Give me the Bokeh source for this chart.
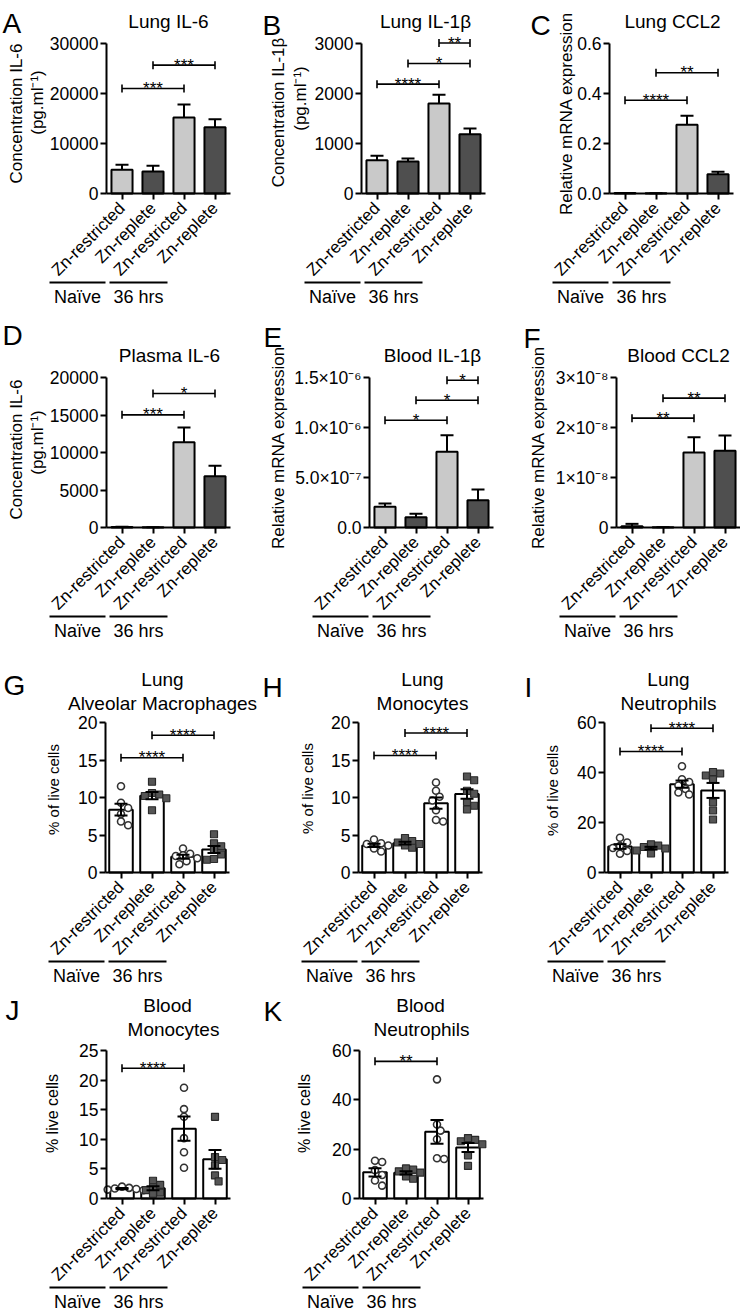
import numpy as np
from math import pi
from bokeh.plotting import figure
from bokeh.models import Range1d, FixedTicker, Label, Whisker, TeeHead, ColumnDataSource, Arrow
from bokeh.layouts import column, row
from bokeh.embed import file_html
from bokeh.resources import INLINE

# ---------------- data ----------------
categories = ["Zn-restricted", "Zn-replete", "Zn-restricted", "Zn-replete"]
groups = ["Naïve", "36 hrs"]

# A  Lung IL-6
lung_il6_mean = [4730, 4400, 15200, 13270]
lung_il6_sem = [1000, 1130, 2600, 1600]
lung_il6_yticks = [0, 10000, 20000, 30000]
lung_il6_yticklabels = ["0", "10000", "20000", "30000"]
lung_il6_sig_from = [0, 1]
lung_il6_sig_to = [2, 3]
lung_il6_sig_y = [21000, 25670]
lung_il6_sig_text = ["***", "***"]

# B  Lung IL-1beta
lung_il1b_mean = [667, 640, 1800, 1187]
lung_il1b_sem = [86, 60, 173, 113]
lung_il1b_yticks = [0, 1000, 2000, 3000]
lung_il1b_yticklabels = ["0", "1000", "2000", "3000"]
lung_il1b_sig_from = [0, 1, 2]
lung_il1b_sig_to = [2, 3, 3]
lung_il1b_sig_y = [2187, 2600, 3010]
lung_il1b_sig_text = ["****", "*", "**"]

# C  Lung CCL2
lung_ccl2_mean = [0.002, 0.001, 0.275, 0.077]
lung_ccl2_sem = [0.0005, 0.0003, 0.036, 0.010]
lung_ccl2_yticks = [0, 0.2, 0.4, 0.6]
lung_ccl2_yticklabels = ["0.0", "0.2", "0.4", "0.6"]
lung_ccl2_sig_from = [0, 1]
lung_ccl2_sig_to = [2, 3]
lung_ccl2_sig_y = [0.373, 0.483]
lung_ccl2_sig_text = ["****", "**"]

# D  Plasma IL-6
plasma_il6_mean = [60, 20, 11380, 6840]
plasma_il6_sem = [30, 10, 1950, 1380]
plasma_il6_yticks = [0, 5000, 10000, 15000, 20000]
plasma_il6_yticklabels = ["0", "5000", "10000", "15000", "20000"]
plasma_il6_sig_from = [0, 1]
plasma_il6_sig_to = [2, 3]
plasma_il6_sig_y = [15020, 17870]
plasma_il6_sig_text = ["***", "*"]

# E  Blood IL-1beta
blood_il1b_mean = [2.07e-7, 1.03e-7, 7.57e-7, 2.73e-7]
blood_il1b_sem = [0.33e-7, 0.34e-7, 1.66e-7, 1.07e-7]
blood_il1b_yticks = [0, 5e-7, 1e-6, 1.5e-6]
blood_il1b_yticklabels = ["0.0", "5.0×10⁻⁷", "1.0×10⁻⁶", "1.5×10⁻⁶"]
blood_il1b_sig_from = [0, 1, 2]
blood_il1b_sig_to = [2, 3, 3]
blood_il1b_sig_y = [1.073e-6, 1.273e-6, 1.473e-6]
blood_il1b_sig_text = ["*", "*", "*"]

# F  Blood CCL2
blood_ccl2_mean = [2.7e-10, 5e-11, 1.50e-8, 1.533e-8]
blood_ccl2_sem = [4.6e-10, 2e-11, 3.07e-9, 3.07e-9]
blood_ccl2_yticks = [0, 1e-8, 2e-8, 3e-8]
blood_ccl2_yticklabels = ["0", "1×10⁻⁸", "2×10⁻⁸", "3×10⁻⁸"]
blood_ccl2_sig_from = [0, 1]
blood_ccl2_sig_to = [2, 3]
blood_ccl2_sig_y = [2.187e-8, 2.587e-8]
blood_ccl2_sig_text = ["**", "**"]

# G  Lung alveolar macrophages (% of live cells)
lung_am_points = [[11.5, 9.3, 8.6, 7.8, 6.8, 6.3],
                  [12.1, 10.6, 10.4, 10.2, 9.9, 8.3],
                  [3.2, 2.5, 2.3, 2.2, 1.9, 1.5, 1.1],
                  [5.1, 3.9, 3.5, 3.0, 2.4, 1.8, 1.7]]
lung_am_yticks = [0, 5, 10, 15, 20]
lung_am_yticklabels = ["0", "5", "10", "15", "20"]
lung_am_sig_from = [0, 1]
lung_am_sig_to = [2, 3]
lung_am_sig_y = [15.3, 18.3]
lung_am_sig_text = ["****", "****"]

# H  Lung monocytes
lung_mono_points = [[4.4, 3.9, 3.8, 3.6, 3.2, 2.8],
                    [4.6, 4.2, 4.0, 3.8, 3.6, 3.3],
                    [12.0, 10.9, 10.1, 9.6, 8.3, 7.0, 6.8],
                    [12.8, 12.3, 10.9, 10.5, 9.4, 8.9, 8.4]]
lung_mono_yticks = [0, 5, 10, 15, 20]
lung_mono_yticklabels = ["0", "5", "10", "15", "20"]
lung_mono_sig_from = [0, 1]
lung_mono_sig_to = [2, 3]
lung_mono_sig_y = [15.6, 18.6]
lung_mono_sig_text = ["****", "****"]

# I  Lung neutrophils
lung_neut_points = [[13.9, 12.0, 10.6, 9.8, 8.6, 7.5],
                    [11.3, 10.8, 10.2, 9.6, 8.8, 7.6],
                    [42.5, 37.3, 36.2, 34.8, 33.4, 32.0, 31.2],
                    [40.2, 39.6, 38.8, 37.2, 28.0, 24.8, 21.2]]
lung_neut_yticks = [0, 20, 40, 60]
lung_neut_yticklabels = ["0", "20", "40", "60"]
lung_neut_sig_from = [0, 1]
lung_neut_sig_to = [2, 3]
lung_neut_sig_y = [48.4, 57.7]
lung_neut_sig_text = ["****", "****"]

# J  Blood monocytes (% live cells)
blood_mono_points = [[2.0, 1.8, 1.7, 1.6, 1.5, 1.4],
                     [3.0, 2.3, 1.9, 1.4, 1.0, 0.8],
                     [18.7, 15.1, 13.8, 10.2, 7.8, 5.2],
                     [13.8, 7.0, 6.5, 5.6, 3.9, 2.9]]
blood_mono_yticks = [0, 5, 10, 15, 20, 25]
blood_mono_yticklabels = ["0", "5", "10", "15", "20", "25"]
blood_mono_sig_from = [0]
blood_mono_sig_to = [2]
blood_mono_sig_y = [22.0]
blood_mono_sig_text = ["****"]

# K  Blood neutrophils
blood_neut_points = [[15.3, 14.8, 11.5, 9.5, 7.3, 5.2],
                     [12.2, 11.7, 11.0, 10.5, 9.0, 8.0],
                     [48.3, 30.0, 27.5, 24.0, 16.3, 16.0],
                     [24.5, 23.8, 23.2, 22.0, 17.5, 13.2]]
blood_neut_yticks = [0, 20, 40, 60]
blood_neut_yticklabels = ["0", "20", "40", "60"]
blood_neut_sig_from = [0]
blood_neut_sig_to = [2]
blood_neut_sig_y = [55.6]
blood_neut_sig_text = ["**"]

# ---------------- style / layout ----------------
FONT = "Liberation Sans"
LIGHT = "#c9c9c9"
DARK = "#4f4f4f"

COLS_X = [0, 262, 496]
COLS_W = [262, 234, 244]
ROWS_Y = [0, 310, 645, 988]
ROWS_H = [310, 335, 343, 324]
AXIS_TOP = [43, 377, 722, 1050]      # page y of the top y tick
AXIS_H = [150, 150, 150, 148]        # pixel height of the y axis

GROUP_LINES = [(-57, -1), (3, 61)]   # relative to the y axis (page px)
GROUP_TEXT_X = [-29, 32]
GROUP_LINE_DY = 89                   # below x axis
GROUP_TEXT_DY = 103

panels = [
    dict(key="A", r=0, c=0, fl=106, fw=124, kind="bar", mean=lung_il6_mean, sem=lung_il6_sem,
         yticks=lung_il6_yticks, yticklabels=lung_il6_yticklabels,
         sig=(lung_il6_sig_from, lung_il6_sig_to, lung_il6_sig_y, lung_il6_sig_text),
         titles=[("Lung IL-6", 168, 21)],
         ytitles=[("Concentration IL-6", 16, 113, "17px"), ("(pg.ml⁻¹)", 37, 102, "17px")],
         letter=(2, 23)),
    dict(key="B", r=0, c=1, fl=361, fw=124, kind="bar", mean=lung_il1b_mean, sem=lung_il1b_sem,
         yticks=lung_il1b_yticks, yticklabels=lung_il1b_yticklabels,
         sig=(lung_il1b_sig_from, lung_il1b_sig_to, lung_il1b_sig_y, lung_il1b_sig_text),
         titles=[("Lung IL-1β", 425, 21)],
         ytitles=[("Concentration IL-1β", 278, 112, "17px"), ("(pg.ml⁻¹)", 300, 98, "17px")],
         letter=(262, 25)),
    dict(key="C", r=0, c=2, fl=609, fw=124, kind="bar", mean=lung_ccl2_mean, sem=lung_ccl2_sem,
         yticks=lung_ccl2_yticks, yticklabels=lung_ccl2_yticklabels,
         sig=(lung_ccl2_sig_from, lung_ccl2_sig_to, lung_ccl2_sig_y, lung_ccl2_sig_text),
         titles=[("Lung CCL2", 672, 21)],
         ytitles=[("Relative mRNA expression", 566, 113, "17px")],
         letter=(530, 25)),
    dict(key="D", r=1, c=0, fl=106, fw=124, kind="bar", mean=plasma_il6_mean, sem=plasma_il6_sem,
         yticks=plasma_il6_yticks, yticklabels=plasma_il6_yticklabels,
         sig=(plasma_il6_sig_from, plasma_il6_sig_to, plasma_il6_sig_y, plasma_il6_sig_text),
         titles=[("Plasma IL-6", 169, 355)],
         ytitles=[("Concentration IL-6", 16, 449, "17px"), ("(pg.ml⁻¹)", 37, 442, "17px")],
         letter=(2, 335)),
    dict(key="E", r=1, c=1, fl=369, fw=124, kind="bar", mean=blood_il1b_mean, sem=blood_il1b_sem,
         yticks=blood_il1b_yticks, yticklabels=blood_il1b_yticklabels,
         sig=(blood_il1b_sig_from, blood_il1b_sig_to, blood_il1b_sig_y, blood_il1b_sig_text),
         titles=[("Blood IL-1β", 432, 355)],
         ytitles=[("Relative mRNA expression", 278, 447, "17px")],
         letter=(263, 337)),
    dict(key="F", r=1, c=2, fl=616, fw=124, kind="bar", mean=blood_ccl2_mean, sem=blood_ccl2_sem,
         yticks=blood_ccl2_yticks, yticklabels=blood_ccl2_yticklabels,
         sig=(blood_ccl2_sig_from, blood_ccl2_sig_to, blood_ccl2_sig_y, blood_ccl2_sig_text),
         titles=[("Blood CCL2", 678, 355)],
         ytitles=[("Relative mRNA expression", 538, 447, "17px")],
         letter=(523, 338)),
    dict(key="G", r=2, c=0, fl=105, fw=124, kind="dots", points=lung_am_points,
         yticks=lung_am_yticks, yticklabels=lung_am_yticklabels,
         sig=(lung_am_sig_from, lung_am_sig_to, lung_am_sig_y, lung_am_sig_text),
         titles=[("Lung", 162, 679), ("Alveolar Macrophages", 162, 703)],
         ytitles=[("% of live cells", 53, 789, "15px")],
         letter=(3, 685)),
    dict(key="H", r=2, c=1, fl=358, fw=124, kind="dots", points=lung_mono_points,
         yticks=lung_mono_yticks, yticklabels=lung_mono_yticklabels,
         sig=(lung_mono_sig_from, lung_mono_sig_to, lung_mono_sig_y, lung_mono_sig_text),
         titles=[("Lung", 422, 679), ("Monocytes", 422, 703)],
         ytitles=[("% of live cells", 307, 788, "15px")],
         letter=(262, 687)),
    dict(key="I", r=2, c=2, fl=604, fw=124, kind="dots", points=lung_neut_points,
         yticks=lung_neut_yticks, yticklabels=lung_neut_yticklabels,
         sig=(lung_neut_sig_from, lung_neut_sig_to, lung_neut_sig_y, lung_neut_sig_text),
         titles=[("Lung", 668, 679), ("Neutrophils", 668, 703)],
         ytitles=[("% of live cells", 552, 790, "15px")],
         letter=(524, 687)),
    dict(key="J", r=3, c=0, fl=106, fw=124, kind="dots", points=blood_mono_points,
         yticks=blood_mono_yticks, yticklabels=blood_mono_yticklabels,
         sig=(blood_mono_sig_from, blood_mono_sig_to, blood_mono_sig_y, blood_mono_sig_text),
         titles=[("Blood", 167, 1005), ("Monocytes", 173, 1029)],
         ytitles=[("% live cells", 52, 1113, "16px")],
         letter=(5, 1010)),
    dict(key="K", r=3, c=1, fl=359, fw=124, kind="dots", points=blood_neut_points,
         yticks=blood_neut_yticks, yticklabels=blood_neut_yticklabels,
         sig=(blood_neut_sig_from, blood_neut_sig_to, blood_neut_sig_y, blood_neut_sig_text),
         titles=[("Blood", 420, 1005), ("Neutrophils", 421, 1029)],
         ytitles=[("% live cells", 304, 1113, "16px")],
         letter=(263, 1011)),
]


def swarm_offsets(vals, xpx, ypx, diam=6.5):
    """Deterministic beeswarm: place points (largest first) at the nearest free slot."""
    vals = np.asarray(vals, float)
    order = np.argsort(-vals, kind="stable")
    placed = []
    offs = np.zeros(len(vals))
    step = diam * 0.55
    for k in order:
        yk = vals[k] * ypx
        n = 0
        while True:
            cand = 0.0 if n == 0 else ((n + 1) // 2) * step * (1 if n % 2 else -1)
            if all((cand - px) ** 2 + (yk - py) ** 2 >= diam ** 2 for px, py in placed):
                break
            n += 1
        placed.append((cand, yk))
        offs[k] = cand / xpx
    return offs


def build(pn):
    r, c = pn["r"], pn["c"]
    ox, oy, w, h = COLS_X[c], ROWS_Y[r], COLS_W[c], ROWS_H[r]
    fl, fw = pn["fl"], pn["fw"]
    ft, fh = AXIS_TOP[r], AXIS_H[r]
    yticks = pn["yticks"]
    ymax = yticks[-1]
    # the plotting frame fills the whole figure; the axes are pinned inside it
    ppx = fw / 4.0
    ppy = fh / ymax
    x_range = Range1d(-0.5 - (fl - ox) / ppx, 3.5 + (ox + w - fl - fw) / ppx)
    y_range = Range1d(-(oy + h - ft - fh) / ppy, ymax + (ft - oy) / ppy)
    p = figure(width=w, height=h, x_range=x_range, y_range=y_range,
               min_border=0, min_border_left=0, min_border_right=0,
               min_border_top=0, min_border_bottom=0,
               output_backend="svg", toolbar_location=None, tools="")
    p.outline_line_color = None
    p.xgrid.visible = False
    p.ygrid.visible = False
    p.background_fill_color = "white"
    p.border_fill_color = "white"

    for ax in (p.xaxis[0], p.yaxis[0]):
        ax.axis_line_width = 2
        ax.axis_line_color = "black"
        ax.major_tick_line_width = 2
        ax.major_tick_line_color = "black"
        ax.major_tick_out = 6
        ax.major_tick_in = 0
        ax.minor_tick_line_color = None
        ax.major_label_text_font = FONT
        ax.major_label_text_color = "black"
    xs = list(range(len(categories)))
    xax = p.xaxis[0]
    yax = p.yaxis[0]
    xax.fixed_location = 0
    xax.bounds = (-0.5, 3.5)
    xax.ticker = FixedTicker(ticks=xs)
    xax.major_label_overrides = {i: cat for i, cat in enumerate(categories)}
    xax.major_label_orientation = pi / 4
    xax.major_label_text_font_size = "17px"
    xax.major_label_standoff = 6
    yax.fixed_location = -0.5
    yax.bounds = (0, ymax)
    yax.ticker = FixedTicker(ticks=yticks)
    yax.major_label_overrides = dict(zip(yticks, pn["yticklabels"]))
    yax.major_label_text_font_size = "17.5px"
    yax.major_label_standoff = 2

    if pn["kind"] == "bar":
        mean = np.array(pn["mean"], float)
        sem = np.array(pn["sem"], float)
        src = ColumnDataSource(dict(x=xs, top=mean, hi=mean + sem,
                                    color=[LIGHT, DARK, LIGHT, DARK]))
        p.vbar(x="x", top="top", bottom=0, width=0.68, fill_color="color",
               line_color="black", line_width=2, source=src)
        p.add_layout(Whisker(source=src, base="x", lower="top", upper="hi", dimension="height",
                             line_width=2, line_color="black", lower_head=None,
                             upper_head=TeeHead(size=13, line_width=2, line_color="black"),
                             level="overlay"))
    else:
        pts = pn["points"]
        mean = np.array([np.mean(v) for v in pts])
        sem = np.array([np.std(v, ddof=1) / np.sqrt(len(v)) for v in pts])
        src = ColumnDataSource(dict(x=xs, top=mean, lo=mean - sem, hi=mean + sem))
        p.vbar(x="x", top="top", bottom=0, width=0.76, fill_color="white",
               line_color="black", line_width=2, source=src)
        for i, vals in enumerate(pts):
            offs = swarm_offsets(vals, ppx, ppy)
            dsrc = ColumnDataSource(dict(x=i + offs, y=list(vals)))
            if i % 2 == 0:
                p.scatter(x="x", y="y", source=dsrc, marker="circle", size=7,
                          fill_color="white", line_color="#333333", line_width=1.6)
            else:
                p.scatter(x="x", y="y", source=dsrc, marker="square", size=7,
                          fill_color="#555555", line_color="#2a2a2a", line_width=1.2)
        p.add_layout(Whisker(source=src, base="x", lower="lo", upper="hi", dimension="height",
                             line_width=2, line_color="black",
                             lower_head=TeeHead(size=13, line_width=2, line_color="black"),
                             upper_head=TeeHead(size=13, line_width=2, line_color="black"),
                             level="overlay"))

    # significance brackets
    f, t, yv, txt = pn["sig"]
    bsrc = ColumnDataSource(dict(lo=f, hi=t, y=yv))
    p.add_layout(Whisker(source=bsrc, base="y", lower="lo", upper="hi", dimension="width",
                         line_width=1.6, line_color="black",
                         lower_head=TeeHead(size=8, line_width=1.6, line_color="black"),
                         upper_head=TeeHead(size=8, line_width=1.6, line_color="black"),
                         level="overlay"))
    for a, b, yy, s in zip(f, t, yv, txt):
        p.add_layout(Label(x=(a + b) / 2.0, y=yy, text=s, text_align="center",
                           text_baseline="alphabetic", y_offset=0, text_font=FONT,
                           text_font_size="17px", text_color="black"))

    # screen coordinates of the frame (= whole figure): origin at bottom-left
    def sx(px):
        return px - ox

    def sy(py):
        return oy + h - py

    def txt_label(x, y, text, size, align="center", baseline="alphabetic", angle=0.0):
        p.add_layout(Label(x=x, y=y, x_units="screen", y_units="screen", text=text,
                           text_font=FONT, text_font_size=size, text_color="black",
                           text_align=align, text_baseline=baseline, angle=angle))

    # group lines and labels under the category labels
    x_axis_py = ft + fh
    for (x0, x1) in GROUP_LINES:
        yy = sy(x_axis_py + GROUP_LINE_DY)
        p.add_layout(Arrow(x_start=sx(fl + x0), y_start=yy, x_end=sx(fl + x1), y_end=yy,
                           start_units="screen", end_units="screen", start=None, end=None,
                           line_width=2, line_color="black"))
    for g, gx in zip(groups, GROUP_TEXT_X):
        txt_label(sx(fl + gx), sy(x_axis_py + GROUP_TEXT_DY), g, "18px")

    for (ttext, tx, ty) in pn["titles"]:
        txt_label(sx(tx), sy(ty), ttext, "19px")
    for (ytext, yx, yy, ysize) in pn["ytitles"]:
        txt_label(sx(yx), sy(yy), ytext, ysize, baseline="middle", angle=pi / 2)
    lx, ly = pn["letter"]
    txt_label(sx(lx), sy(ly), pn["key"], "28px", align="left")
    return p


figs = {pn["key"]: build(pn) for pn in panels}
layout = column(
    row(figs["A"], figs["B"], figs["C"]),
    row(figs["D"], figs["E"], figs["F"]),
    row(figs["G"], figs["H"], figs["I"]),
    row(figs["J"], figs["K"]),
)

with open("out.html", "w", encoding="utf-8") as fh_out:
    fh_out.write(file_html(layout, INLINE))
